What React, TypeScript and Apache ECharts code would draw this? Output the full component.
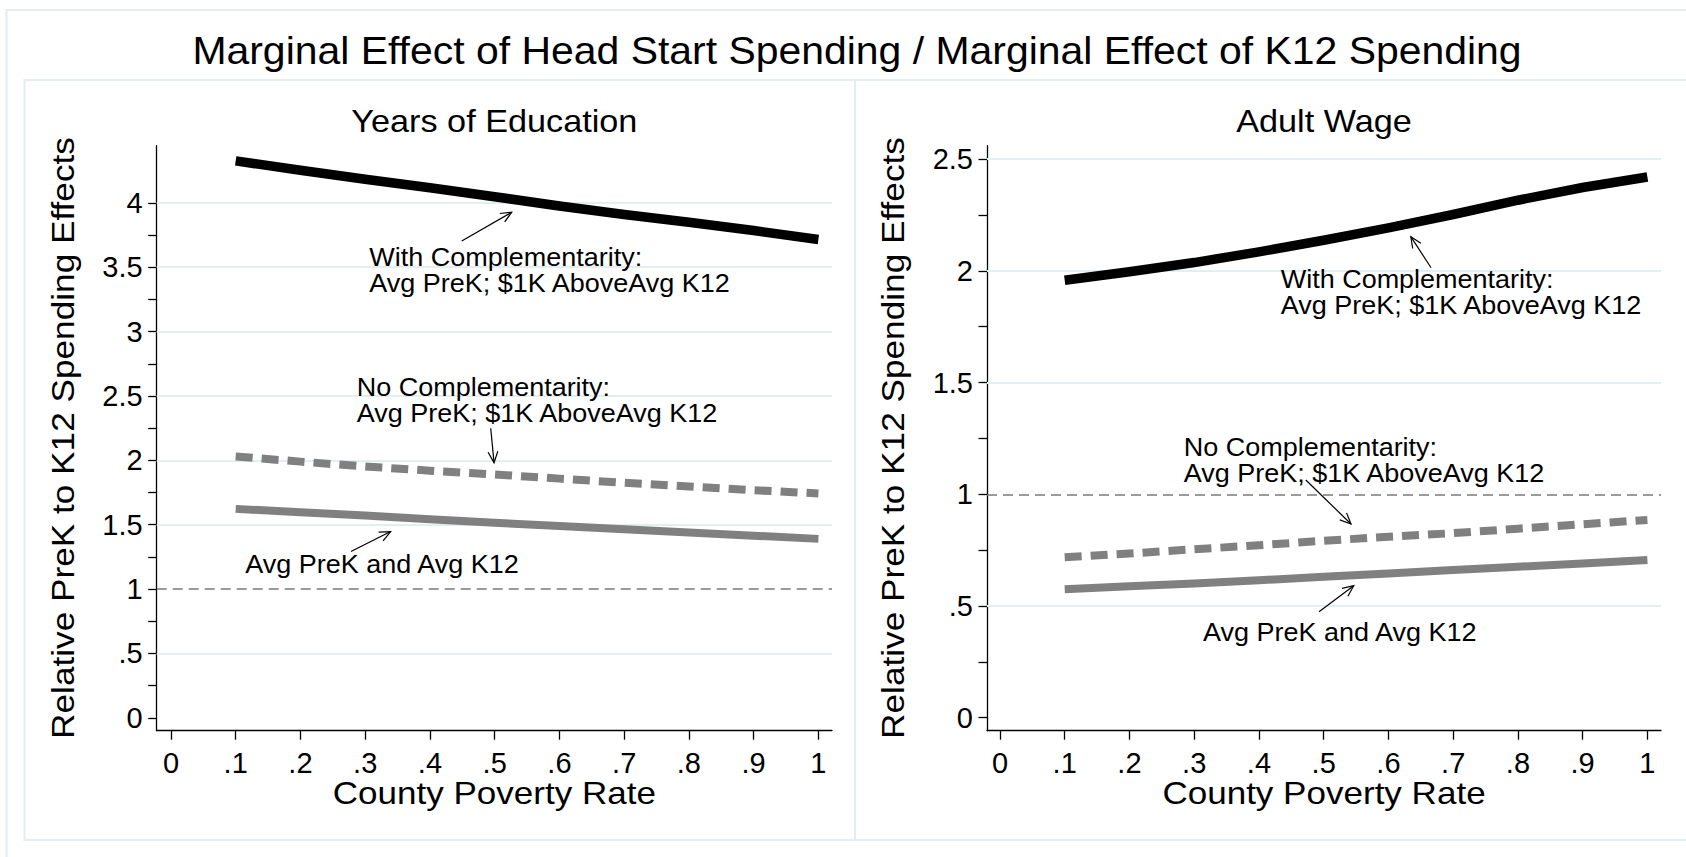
import React, { useEffect, useRef } from "react";
import * as echarts from "echarts";

// ---------- data ----------
const povertyRate = [0.1, 0.2, 0.3, 0.4, 0.5, 0.6, 0.7, 0.8, 0.9, 1.0];

const eduWithComp = [4.326, 4.253, 4.184, 4.117, 4.048, 3.976, 3.91, 3.85, 3.785, 3.716];
const eduNoComp = [2.03, 1.99, 1.952, 1.92, 1.89, 1.858, 1.826, 1.797, 1.768, 1.743];
const eduAvg = [1.623, 1.596, 1.572, 1.543, 1.515, 1.49, 1.464, 1.44, 1.415, 1.39];

const wageWithComp = [1.958, 1.996, 2.037, 2.085, 2.137, 2.192, 2.252, 2.316, 2.373, 2.42];
const wageNoComp = [0.718, 0.735, 0.754, 0.772, 0.792, 0.81, 0.826, 0.846, 0.866, 0.885];
const wageAvg = [0.575, 0.588, 0.601, 0.615, 0.631, 0.645, 0.661, 0.676, 0.69, 0.706];

const xTickValues = [0, 0.1, 0.2, 0.3, 0.4, 0.5, 0.6, 0.7, 0.8, 0.9, 1];
const eduLabelValues = [0, 0.5, 1, 1.5, 2, 2.5, 3, 3.5, 4];
const eduTickValues = [0, 0.25, 0.5, 0.75, 1, 1.25, 1.5, 1.75, 2, 2.25, 2.5, 2.75, 3, 3.25, 3.5, 3.75, 4];
const eduGridValues = [0.5, 1.5, 2, 2.5, 3, 3.5, 4];
const wageLabelValues = [0, 0.5, 1, 1.5, 2, 2.5];
const wageTickValues = [0, 0.25, 0.5, 0.75, 1, 1.25, 1.5, 1.75, 2, 2.25, 2.5];
const wageGridValues = [0.5, 1.5, 2, 2.5];
const referenceValue = 1;

const mainTitle = "Marginal Effect of Head Start Spending / Marginal Effect of K12 Spending";
const panelTitles = ["Years of Education", "Adult Wage"];
const xTitle = "County Poverty Rate";
const yTitle = "Relative PreK to K12 Spending Effects";

const withCompLines = ["With Complementarity:", "Avg PreK; $1K AboveAvg K12"];
const noCompLines = ["No Complementarity:", "Avg PreK; $1K AboveAvg K12"];
const avgLines = ["Avg PreK and Avg K12"];

// annotations in data coordinates: text = [left x, first baseline y]
const eduAnnotations = [
  { lines: withCompLines, text: [0.3064, 3.51], tail: [0.4491, 3.703], tip: [0.5263, 3.927] },
  { lines: noCompLines, text: [0.2869, 2.494], tail: [0.4939, 2.249], tip: [0.499, 1.982] },
  { lines: avgLines, text: [0.1147, 1.1227], tail: [0.2781, 1.292], tip: [0.3393, 1.447] },
];
const wageAnnotations = [
  { lines: withCompLines, text: [0.4336, 1.922], tail: [0.6658, 2.014], tip: [0.6346, 2.153] },
  { lines: noCompLines, text: [0.2838, 1.168], tail: [0.4724, 1.064], tip: [0.5422, 0.867] },
  { lines: avgLines, text: [0.3135, 0.3434], tail: [0.4928, 0.4746], tip: [0.5464, 0.5909] },
];

// ---------- styles ----------
const FONT = "'Liberation Sans', Arial, Helvetica, sans-serif";
const GRID_COLOR = "#e4edf0";
const GRAY = "#808080";

const fmt = (v: number) => {
  const s = String(Math.round(v * 100) / 100);
  return s.replace(/^0\./, ".");
};

function makeXAxis(gridIndex: number, min: number, max: number) {
  return {
    type: "value",
    gridIndex,
    min,
    max,
    axisLine: { show: true, onZero: false, lineStyle: { color: "#000", width: 1.3 } },
    axisTick: { show: true, length: 9, customValues: xTickValues, lineStyle: { color: "#000", width: 1.3 } },
    axisLabel: {
      show: true,
      customValues: xTickValues,
      formatter: fmt,
      fontSize: 29,
      fontFamily: FONT,
      color: "#000",
      margin: 18,
    },
    splitLine: { show: false },
  };
}

function makeYAxis(gridIndex: number, min: number, max: number, labels: number[], ticks: number[]) {
  return {
    type: "value",
    gridIndex,
    min,
    max,
    axisLine: { show: true, onZero: false, lineStyle: { color: "#000", width: 1.3 } },
    axisTick: { show: true, length: 8.5, customValues: ticks, lineStyle: { color: "#000", width: 1.3 } },
    axisLabel: {
      show: true,
      customValues: labels,
      formatter: fmt,
      fontSize: 29,
      fontFamily: FONT,
      color: "#000",
      margin: 14,
    },
    splitLine: { show: false },
  };
}

function gridSeries(idx: number, ys: number[], gridVals: number[]) {
  return {
    type: "line",
    xAxisIndex: idx,
    yAxisIndex: idx,
    data: povertyRate.map((x, i) => [x, ys[i]]),
    symbol: "none",
    silent: true,
    z: 1,
    lineStyle: { opacity: 0, width: 0 },
    markLine: {
      silent: true,
      z: 1,
      symbol: ["none", "none"],
      label: { show: false },
      lineStyle: { color: GRID_COLOR, width: 2, type: "solid" },
      data: [
        ...gridVals.map((v) => ({ yAxis: v })),
        { yAxis: referenceValue, lineStyle: { color: "#7a7a7a", width: 1.6, type: [10, 6] } },
      ],
    },
  };
}

function lineSeries(idx: number, ys: number[], color: string, width: number, dash?: number[]) {
  return {
    type: "line",
    xAxisIndex: idx,
    yAxisIndex: idx,
    data: povertyRate.map((x, i) => [x, ys[i]]),
    symbol: "none",
    z: 3,
    lineStyle: { color, width, type: dash ? dash : "solid", cap: "butt", join: "miter" },
  };
}

const baseOption = {
  animation: false,
  backgroundColor: "#fff",
  grid: [
    { left: 156.7, top: 145.7, width: 675.3, height: 585 },
    { left: 987, top: 145.7, width: 674, height: 585 },
  ],
  xAxis: [makeXAxis(0, -0.022, 1.021), makeXAxis(1, -0.02, 1.021)],
  yAxis: [
    makeYAxis(0, -0.1, 4.444, eduLabelValues, eduTickValues),
    makeYAxis(1, -0.058, 2.56, wageLabelValues, wageTickValues),
  ],
  series: [
    gridSeries(0, eduAvg, eduGridValues),
    lineSeries(0, eduAvg, GRAY, 8),
    lineSeries(0, eduNoComp, GRAY, 8, [17, 9]),
    lineSeries(0, eduWithComp, "#000", 9.5),
    gridSeries(1, wageAvg, wageGridValues),
    lineSeries(1, wageAvg, GRAY, 8),
    lineSeries(1, wageNoComp, GRAY, 8, [17, 9]),
    lineSeries(1, wageWithComp, "#000", 9.5),
  ],
};

function textEl(text: string, x: number, y: number, size: number, scaleX: number, align = "center", rotation = 0) {
  return {
    type: "text",
    x,
    y,
    rotation,
    scaleX,
    z: 10,
    silent: true,
    style: {
      text,
      fontSize: size,
      fontFamily: FONT,
      fill: "#000",
      textAlign: align,
      textVerticalAlign: "middle",
    },
  };
}

function arrowEls(tail: number[], tip: number[]) {
  const dx = tip[0] - tail[0];
  const dy = tip[1] - tail[1];
  const len = Math.hypot(dx, dy) || 1;
  const bx = -dx / len;
  const by = -dy / len;
  const L = 12;
  const a = 0.42;
  const c = Math.cos(a);
  const s = Math.sin(a);
  const p1 = [tip[0] + L * (bx * c - by * s), tip[1] + L * (bx * s + by * c)];
  const p2 = [tip[0] + L * (bx * c + by * s), tip[1] + L * (-bx * s + by * c)];
  return [
    {
      type: "line",
      z: 10,
      silent: true,
      shape: { x1: tail[0], y1: tail[1], x2: tip[0], y2: tip[1] },
      style: { stroke: "#000", lineWidth: 1.2 },
    },
    {
      type: "polyline",
      z: 10,
      silent: true,
      shape: { points: [p1, tip, p2] },
      style: { stroke: "#000", lineWidth: 1.2, fill: null },
    },
  ];
}

function buildGraphic(chart: any) {
  const els: any[] = [];
  const frame = { fill: "none", stroke: "#e4ecef", lineWidth: 2 };
  els.push({ type: "rect", z: 0, silent: true, shape: { x: 6.5, y: 10, width: 1720, height: 900 }, style: frame });
  els.push({ type: "rect", z: 0, silent: true, shape: { x: 24.5, y: 80, width: 830.5, height: 760 }, style: frame });
  els.push({ type: "rect", z: 0, silent: true, shape: { x: 855, y: 80, width: 900, height: 760 }, style: frame });

  els.push(textEl(mainTitle, 857, 50.5, 38, 1.077));

  const panels = [
    { idx: 0, title: panelTitles[0], ann: eduAnnotations },
    { idx: 1, title: panelTitles[1], ann: wageAnnotations },
  ];
  const gridLefts = [156.7, 987];
  const gridWidths = [675.3, 674];
  panels.forEach((p) => {
    const cx = gridLefts[p.idx] + gridWidths[p.idx] / 2;
    els.push(textEl(p.title, cx, 121, 32, 1.07));
    els.push(textEl(xTitle, cx, 793.5, 32, 1.095));
    els.push(textEl(yTitle, gridLefts[p.idx] - 94, 438, 32, 1.1, "center", Math.PI / 2));
    p.ann.forEach((a) => {
      const tp = chart.convertToPixel({ gridIndex: p.idx }, a.text);
      a.lines.forEach((ln: string, i: number) => {
        els.push(textEl(ln, tp[0], tp[1] - 9 + i * 26, 25, 1.08, "left"));
      });
      const tail = chart.convertToPixel({ gridIndex: p.idx }, a.tail);
      const tip = chart.convertToPixel({ gridIndex: p.idx }, a.tip);
      els.push(...arrowEls(tail, tip));
    });
  });
  return els;
}

export default function App() {
  const ref = useRef<HTMLDivElement>(null);
  useEffect(() => {
    if (!ref.current) return;
    const chart = echarts.init(ref.current, null, { renderer: "svg" });
    chart.setOption(baseOption as any);
    chart.setOption({ graphic: buildGraphic(chart) } as any);
    return () => {
      chart.dispose();
    };
  }, []);
  return (
    <div
      ref={ref}
      style={{ position: "fixed", left: 0, top: 0, width: 1686, height: 857, background: "#fff" }}
    />
  );
}
